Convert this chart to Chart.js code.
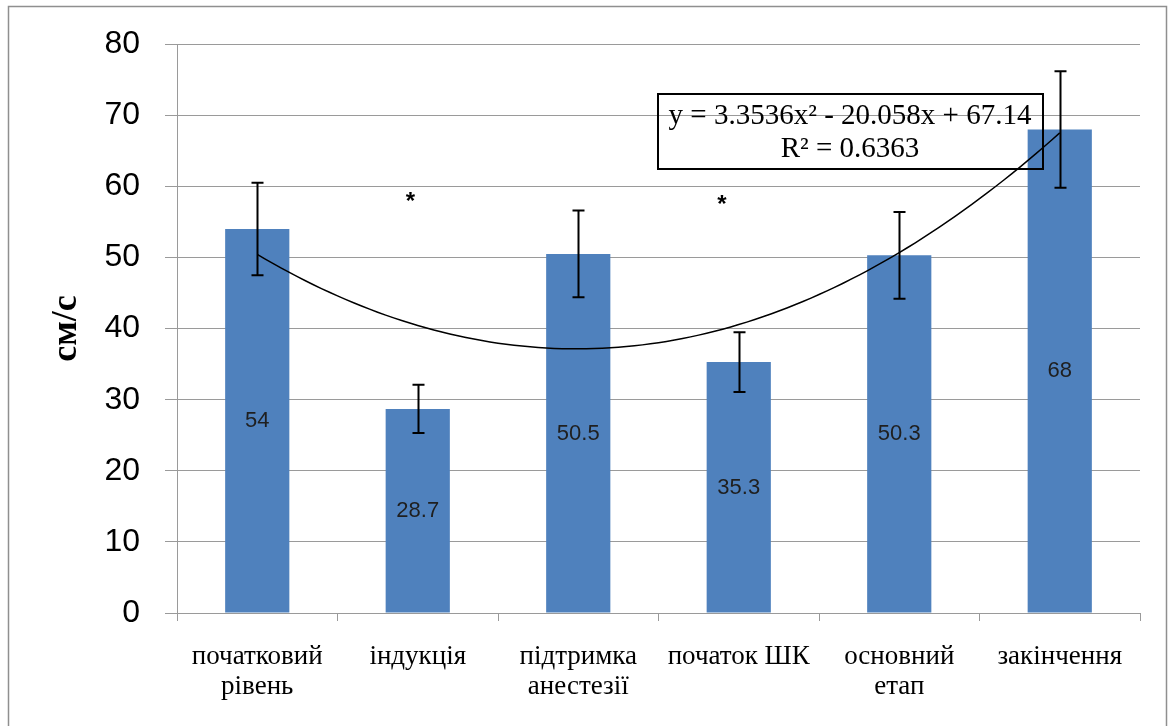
<!DOCTYPE html>
<html>
<head>
<meta charset="utf-8">
<title>Швидкість кровотоку</title>
<script src="https://cdn.jsdelivr.net/npm/chart.js@4/dist/chart.umd.min.js"></script>
<style>
  html, body { margin: 0; padding: 0; background: #ffffff; }
  canvas { display: block; }
</style>
</head>
<body>
<canvas id="chart" width="1171" height="726"></canvas>
<script>
// Stages of the procedure (x axis), multi-line labels
const categories = [
  ['початковий', 'рівень'],
  ['індукція'],
  ['підтримка', 'анестезії'],
  ['початок ШК'],
  ['основний', 'етап'],
  ['закінчення']
];
// Mean velocity per stage, cm/s
const values = [54, 28.7, 50.5, 35.3, 50.3, 68];
// Error bar half-widths
const errors = [6.5, 3.4, 6.1, 4.2, 6.1, 8.2];
// Y axis range and tick step
const yMin = 0, yMax = 80, yStep = 10;
const yTitle = 'см/с';
// Polynomial trend line coefficients: c0 + c1*x + c2*x^2
const trendCoef = [67.14, -20.058, 3.3536];
const trendText = ['y = 3.3536x² - 20.058x + 67.14', 'R² = 0.6363'];
// Significance marks: positions on the stage axis (1-based) and heights
const markPos = [1.955, 3.895];
const markValues = [58.8, 58.3];
const markText = '*';

// Sample the trend polynomial along the stage axis
const trendPoints = [];
for (let i = 0; i <= 100; i++) {
  const x = 1 + i * 0.05;
  trendPoints.push({ x: x, y: trendCoef[0] + trendCoef[1] * x + trendCoef[2] * x * x });
}

const SERIF = '"Liberation Serif", "Times New Roman", serif';
const SANS = '"Liberation Sans", Arial, sans-serif';
const GRID = '#9a9a9a';

const decorPlugin = {
  id: 'decor',
  beforeDraw(chart) {
    const ctx = chart.ctx;
    ctx.save();
    ctx.fillStyle = '#ffffff';
    ctx.fillRect(0, 0, chart.width, chart.height);
    ctx.strokeStyle = '#8f8f8f';
    ctx.lineWidth = 1.5;
    ctx.strokeRect(8.5, 6.5, 1158, 740);
    ctx.restore();
  },
  afterDatasetsDraw(chart) {
    const ctx = chart.ctx;
    const xs = chart.scales.x, x2 = chart.scales.x2, ys = chart.scales.y;
    ctx.save();

    // error bars
    ctx.strokeStyle = '#000000';
    ctx.lineWidth = 2;
    values.forEach((v, i) => {
      const px = Math.round(xs.getPixelForValue(i)) + 0.5;
      const top = ys.getPixelForValue(v + errors[i]);
      const bot = ys.getPixelForValue(v - errors[i]);
      ctx.beginPath();
      ctx.moveTo(px, top); ctx.lineTo(px, bot);
      ctx.moveTo(px - 6, top); ctx.lineTo(px + 6, top);
      ctx.moveTo(px - 6, bot); ctx.lineTo(px + 6, bot);
      ctx.stroke();
    });

    // value labels inside bars
    ctx.fillStyle = '#1f1f1f';
    ctx.font = '22px ' + SANS;
    ctx.textAlign = 'center';
    ctx.textBaseline = 'middle';
    values.forEach((v, i) => {
      const px = xs.getPixelForValue(i);
      const py = ys.getPixelForValue(v / 2);
      ctx.fillText(String(v), px, py);
    });

    // significance marks
    ctx.fillStyle = '#000000';
    ctx.font = 'bold 24px ' + SANS;
    ctx.textBaseline = 'alphabetic';
    markPos.forEach((p, i) => {
      const px = x2.getPixelForValue(p);
      const py = ys.getPixelForValue(markValues[i]);
      ctx.fillText(markText, px, py + 0.58 * 24);
    });

    // trend equation box
    ctx.strokeStyle = '#000000';
    ctx.lineWidth = 2;
    ctx.strokeRect(658, 94, 385, 75);
    ctx.fillStyle = '#000000';
    ctx.font = '29px ' + SERIF;
    ctx.textBaseline = 'middle';
    ctx.fillText(trendText[0], 850, 116);
    ctx.fillText(trendText[1], 850, 149);

    // y axis title
    ctx.save();
    ctx.translate(67, (chart.chartArea.top + chart.chartArea.bottom) / 2);
    ctx.rotate(-Math.PI / 2);
    ctx.font = 'bold 36px ' + SERIF;
    ctx.textAlign = 'center';
    ctx.textBaseline = 'middle';
    ctx.fillText(yTitle, 0, 0);
    ctx.restore();

    ctx.restore();
  }
};

new Chart(document.getElementById('chart'), {
  type: 'bar',
  data: {
    labels: categories,
    datasets: [
      {
        type: 'line',
        label: 'trend',
        data: trendPoints,
        xAxisID: 'x2',
        yAxisID: 'y',
        borderColor: '#000000',
        borderWidth: 1.5,
        pointRadius: 0,
        fill: false,
        tension: 0,
        order: 0
      },
      {
        type: 'bar',
        label: 'values',
        data: values,
        xAxisID: 'x',
        yAxisID: 'y',
        backgroundColor: '#4F81BD',
        borderWidth: 0,
        grouped: false,
        barPercentage: 0.4,
        categoryPercentage: 1.0,
        order: 1
      }
    ]
  },
  options: {
    responsive: false,
    animation: false,
    devicePixelRatio: 1,
    layout: { padding: { left: 0, right: 31, top: 42, bottom: 0 } },
    plugins: {
      legend: { display: false },
      tooltip: { enabled: false },
      title: { display: false }
    },
    scales: {
      x: {
        type: 'category',
        position: 'bottom',
        offset: true,
        grid: {
          offset: true,
          drawOnChartArea: false,
          drawTicks: true,
          tickLength: 8,
          color: GRID,
          lineWidth: 1
        },
        border: { display: true, color: GRID, width: 1 },
        ticks: {
          color: '#000000',
          font: { family: SERIF, size: 27, lineHeight: '30px' },
          padding: 21,
          maxRotation: 0,
          autoSkip: false
        },
        afterFit(scale) { scale.height = 113; }
      },
      x2: {
        type: 'linear',
        position: 'bottom',
        display: false,
        offset: false,
        grid: { offset: false },
        min: 0.5,
        max: 6.5
      },
      y: {
        type: 'linear',
        min: yMin,
        max: yMax,
        grid: {
          color: GRID,
          lineWidth: 1,
          drawTicks: true,
          tickLength: 12
        },
        border: { display: true, color: GRID, width: 1 },
        ticks: {
          stepSize: yStep,
          color: '#000000',
          font: { family: SANS, size: 32 },
          padding: 25
        },
        afterFit(scale) { scale.width = 177; }
      }
    }
  },
  plugins: [decorPlugin]
});
</script>
</body>
</html>
